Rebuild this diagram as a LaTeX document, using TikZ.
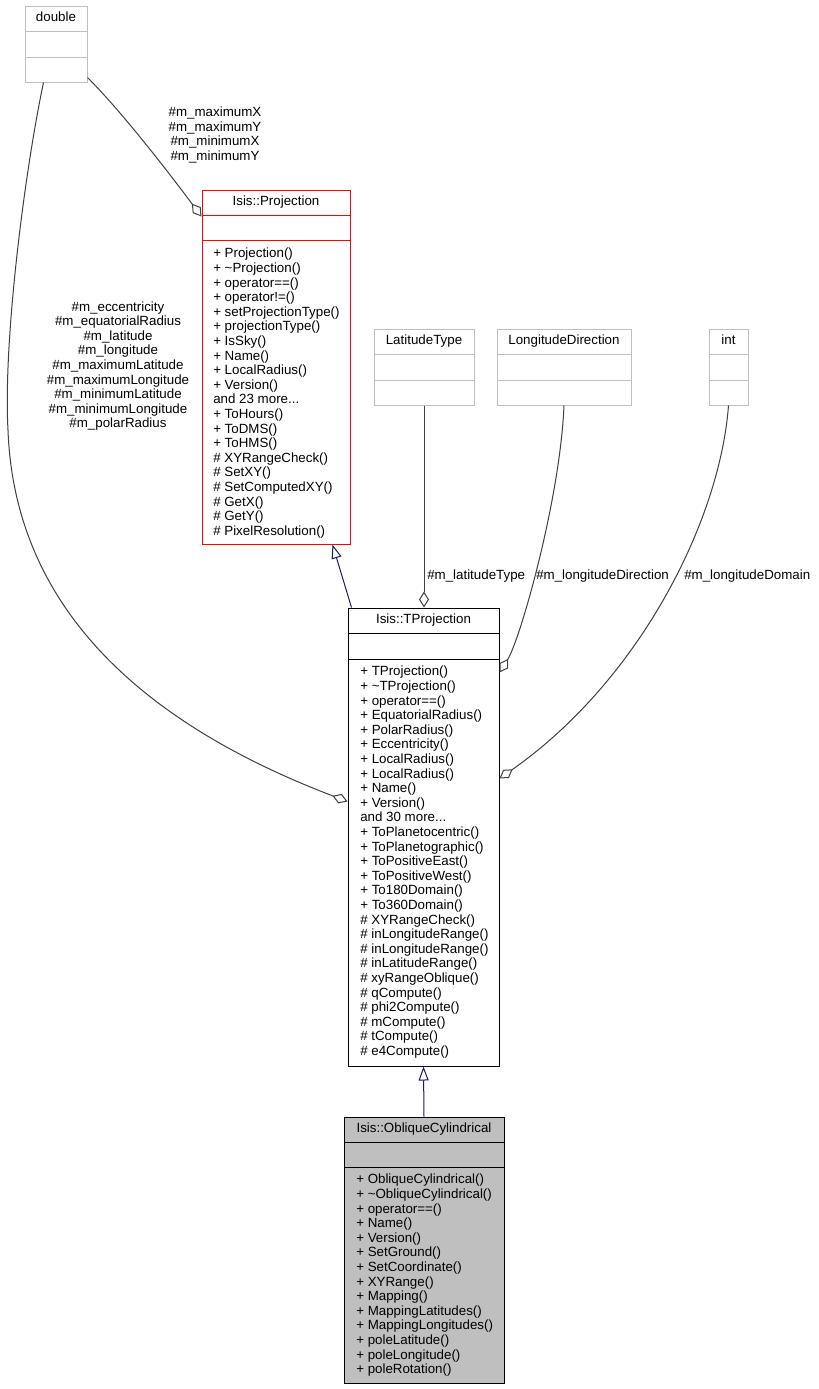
\documentclass[tikz,border=0pt]{standalone}
\usepackage{fontspec}
\setmainfont{Liberation Sans}
\usetikzlibrary{arrows.meta,fit,calc}

\definecolor{edgegray}{HTML}{404040}
\definecolor{boxgray}{HTML}{BFBFBF}
\definecolor{inhblue}{HTML}{191970}

\tikzset{
  every node/.style={font=\fontsize{10}{10.95}\selectfont},
  classbox/.style={draw, line width=0.75pt, inner sep=0pt},
  extbox/.style={classbox, draw=boxgray},
  ttl/.style={anchor=base, inner sep=0pt},
  memb/.style={anchor=north west, align=left, inner sep=0pt},
  lbl/.style={align=center, inner sep=0pt},
  assoc/.style={draw=edgegray, line width=0.75pt, -{Diamond[open, length=12pt, width=7.5pt]}},
  inherit/.style={draw=inhblue, line width=0.75pt, -{Triangle[open, length=10.5pt, width=7.5pt]}}
}

\begin{document}
\begin{tikzpicture}[x=0.75pt, y=-0.75pt]
\path[fill=white] (0,0) rectangle (818,1389);
\useasboundingbox (0,0) rectangle (818,1389);

% double
\node[extbox, fit={(25,6) (87,82)}] (dbl) {};
\draw[boxgray, line width=0.75pt] (25,31) -- (87,31) (25,57) -- (87,57);
\node[ttl] at (56,21) {double};

% Isis::Projection
\node[classbox, draw=red, fit={(202,190) (350,544)}] (proj) {};
\draw[red, line width=0.75pt] (202,215) -- (350,215) (202,240) -- (350,240);
\node[ttl] at (276,205) {Isis::Projection};
\node[memb] at (213,248) {
    + Projection()\\
    + \textasciitilde Projection()\\
    + operator==()\\
    + operator!=()\\
    + setProjectionType()\\
    + projectionType()\\
    + IsSky()\\
    + Name()\\
    + LocalRadius()\\
    + Version()\\
    and 23 more...\\
    + ToHours()\\
    + ToDMS()\\
    + ToHMS()\\
    \# XYRangeCheck()\\
    \# SetXY()\\
    \# SetComputedXY()\\
    \# GetX()\\
    \# GetY()\\
    \# PixelResolution()
};

% LatitudeType, LongitudeDirection, int
\node[extbox, fit={(374,329) (474,405)}] (lattype) {};
\draw[boxgray, line width=0.75pt] (374,354) -- (474,354) (374,380) -- (474,380);
\node[ttl] at (424,344) {LatitudeType};

\node[extbox, fit={(497,329) (631,405)}] (londir) {};
\draw[boxgray, line width=0.75pt] (497,354) -- (631,354) (497,380) -- (631,380);
\node[ttl] at (564,344) {LongitudeDirection};

\node[extbox, fit={(709,329) (748,405)}] (intt) {};
\draw[boxgray, line width=0.75pt] (709,354) -- (748,354) (709,380) -- (748,380);
\node[ttl] at (728.5,344) {int};

% Isis::TProjection
\node[classbox, fit={(348,608) (499,1066)}] (tproj) {};
\draw[line width=0.75pt] (348,633) -- (499,633) (348,659) -- (499,659);
\node[ttl] at (423.5,623) {Isis::TProjection};
\node[memb] at (360,666) {
    + TProjection()\\
    + \textasciitilde TProjection()\\
    + operator==()\\
    + EquatorialRadius()\\
    + PolarRadius()\\
    + Eccentricity()\\
    + LocalRadius()\\
    + LocalRadius()\\
    + Name()\\
    + Version()\\
    and 30 more...\\
    + ToPlanetocentric()\\
    + ToPlanetographic()\\
    + ToPositiveEast()\\
    + ToPositiveWest()\\
    + To180Domain()\\
    + To360Domain()\\
    \# XYRangeCheck()\\
    \# inLongitudeRange()\\
    \# inLongitudeRange()\\
    \# inLatitudeRange()\\
    \# xyRangeOblique()\\
    \# qCompute()\\
    \# phi2Compute()\\
    \# mCompute()\\
    \# tCompute()\\
    \# e4Compute()
};

% Isis::ObliqueCylindrical
\node[classbox, fill=boxgray, fit={(344,1117) (504,1383)}] (oblcyl) {};
\draw[line width=0.75pt] (344,1142) -- (504,1142) (344,1167) -- (504,1167);
\node[ttl] at (424,1132) {Isis::ObliqueCylindrical};
\node[memb] at (356,1174) {
    + ObliqueCylindrical()\\
    + \textasciitilde ObliqueCylindrical()\\
    + operator==()\\
    + Name()\\
    + Version()\\
    + SetGround()\\
    + SetCoordinate()\\
    + XYRange()\\
    + Mapping()\\
    + MappingLatitudes()\\
    + MappingLongitudes()\\
    + poleLatitude()\\
    + poleLongitude()\\
    + poleRotation()
};

% inheritance
\draw[inherit] ($(tproj.north west)+(4,0)$) -- ($(proj.south east)+(-18,0)$);
\draw[inherit] (oblcyl.north) -- (tproj.south);

% members
\draw[assoc] ($(dbl.south east)+(0,-5)$) .. controls (125,115) and (175,181) .. ($(proj.north west)+(0,27)$);
\node[lbl] (lblproj) at (215,135) {\#m\_maximumX\\ \#m\_maximumY\\ \#m\_minimumX\\ \#m\_minimumY};

\draw[assoc] ($(dbl.south west)+(19,0)$) .. controls (25,170) and (3,340) .. (8,430)
    .. controls (15,620) and (160,730) .. ($(tproj.north west)+(0,194)$);
\node[lbl] (lbldbl) at (118,366) {\#m\_eccentricity\\ \#m\_equatorialRadius\\ \#m\_latitude\\ \#m\_longitude\\ \#m\_maximumLatitude\\ \#m\_maximumLongitude\\ \#m\_minimumLatitude\\ \#m\_minimumLongitude\\ \#m\_polarRadius};

\draw[assoc] (lattype.south) -- (lattype.south |- tproj.north);
\node[anchor=base west, inner sep=0pt] (lbllat) at (427,579) {\#m\_latitudeType};

\draw[assoc] (londir.south) .. controls (560,500) and (520,640) .. ($(tproj.north east)+(0,65)$);
\node[anchor=base west, inner sep=0pt] (lbllondir) at (536,579) {\#m\_longitudeDirection};

\draw[assoc] (intt.south) .. controls (720,520) and (640,680) .. ($(tproj.north east)+(0,171)$);
\node[anchor=base west, inner sep=0pt] (lbllondom) at (684,579) {\#m\_longitudeDomain};
\end{tikzpicture}
\end{document}
